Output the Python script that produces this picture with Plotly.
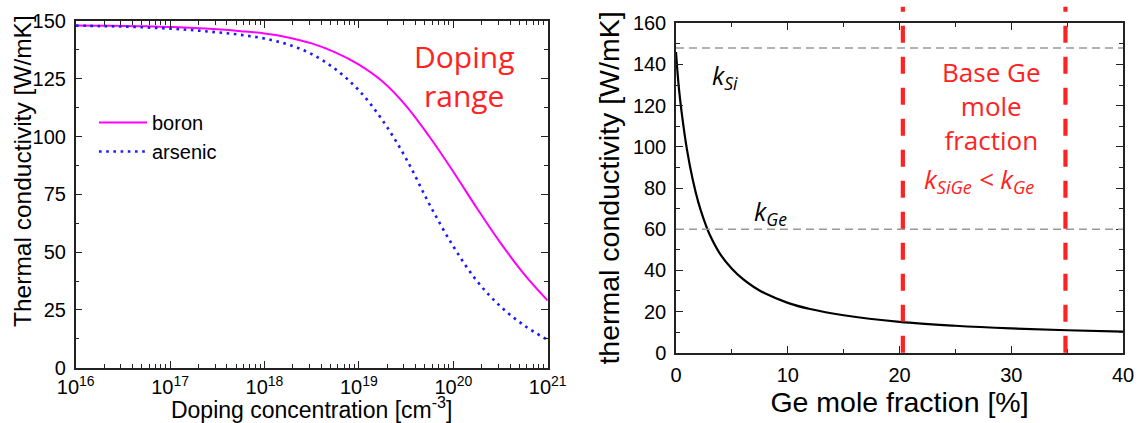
import math
import plotly.graph_objects as go

# ---------------- data ----------------
doping_conc = [1e16, 1.78e16, 3.16e16, 5.62e16, 1e17, 1.78e17, 3.16e17, 5.62e17,
               1e18, 1.78e18, 3.16e18, 5.62e18, 1e19, 1.78e19, 3.16e19, 5.62e19,
               1e20, 1.78e20, 3.16e20, 5.62e20, 1e21]
boron_k = [148.0, 147.95, 147.85, 147.7, 147.4, 147.0, 146.4, 145.6,
           144.6, 142.9, 140.3, 136.4, 131.1, 123.8, 113.3, 99.8,
           84.8, 69.0, 54.0, 40.5, 29.0]
arsenic_k = [148.0, 147.8, 147.6, 147.2, 146.7, 146.0, 145.1, 144.0,
             142.4, 139.8, 135.7, 129.2, 120.0, 107.0, 90.5, 70.5,
             52.5, 37.5, 26.5, 18.3, 12.0]

ge_fraction = [0, 0.25, 0.5, 1, 1.5, 2, 2.5, 3, 4, 5, 6, 7, 8, 10, 12,
               15, 20, 25, 30, 35, 40]
sige_k = [146, 129, 117, 98, 84, 73, 64.5, 57.5, 47.5, 40.8, 35.7, 31.8, 28.7,
          24.2, 21.2, 18.2, 15, 13.1, 11.8, 10.9, 10.2]

k_si_ref = 148
k_ge_ref = 60
doping_marker = 1e19
base_ge_bounds = [20.3, 34.85]
log_tick_exps = [16, 17, 18, 19, 20, 21]

# ---------------- styling ----------------
W, H = 1142, 423
FONT = "Liberation Sans, Arial, sans-serif"
CAL = "Open Sans, Lato, sans-serif"
RED = "#ff2222"


def px_dom_x(a, b):
    return [a / W, b / W]


def px_dom_y(top, bottom):
    return [1 - bottom / H, 1 - top / H]


fig = go.Figure()

fig.add_trace(go.Scatter(
    x=doping_conc, y=boron_k, name="boron", mode="lines",
    line=dict(color="#ff00ff", width=2, shape="spline", smoothing=1),
    xaxis="x", yaxis="y"))
fig.add_trace(go.Scatter(
    x=doping_conc, y=arsenic_k, name="arsenic", mode="lines",
    line=dict(color="#1a1aff", width=2.6, dash="2.6px,4.6px", shape="spline",
              smoothing=1),
    xaxis="x", yaxis="y"))
fig.add_trace(go.Scatter(
    x=ge_fraction, y=sige_k, name="SiGe", mode="lines", showlegend=False,
    line=dict(color="black", width=2.2, shape="spline", smoothing=1),
    xaxis="x2", yaxis="y2"))

axis_common = dict(
    showline=True, linecolor="#222", linewidth=1.5, mirror="allticks",
    ticks="inside", tickcolor="#222", tickwidth=1.3, ticklen=7,
    showgrid=False, zeroline=False, automargin=False,
    tickfont=dict(family=FONT, size=20, color="black"),
)

fig.update_layout(
    width=W, height=H,
    margin=dict(l=0, r=0, t=0, b=0),
    paper_bgcolor="white", plot_bgcolor="white",
    template="none",
    font=dict(family=FONT, color="black"),
    xaxis=dict(
        **axis_common, type="log", domain=px_dom_x(75.7, 547.7),
        range=[16, 21], tickvals=[10.0 ** e for e in log_tick_exps],
        ticktext=[f"10<sup>{e}</sup>" for e in log_tick_exps],
        ticklabelstandoff=1,
        minor=dict(ticks="inside", ticklen=4, tickcolor="#222",
                   dtick="D1", tickwidth=1.1),
        title=dict(text="Doping concentration [cm<sup>-3</sup>]",
                   font=dict(family=FONT, size=23), standoff=8),
        anchor="y",
    ),
    yaxis=dict(
        **axis_common, domain=px_dom_y(21, 367.7), range=[0, 150],
        tickmode="linear", tick0=0, dtick=25, ticklabelstandoff=4,
        minor=dict(ticks="inside", ticklen=4, tickcolor="#222",
                   dtick=12.5, tickwidth=1.1),
        anchor="x",
    ),
    xaxis2=dict(
        **axis_common, domain=px_dom_x(676, 1123), range=[0, 40],
        tickmode="linear", tick0=0, dtick=10, ticklabelstandoff=4,
        minor=dict(ticks="inside", ticklen=4, tickcolor="#222",
                   dtick=5, tickwidth=1.1),
        title=dict(text="Ge mole fraction [%]",
                   font=dict(family=FONT, size=28.5), standoff=7),
        anchor="y2",
    ),
    yaxis2=dict(
        **axis_common, domain=px_dom_y(23.3, 352.7), range=[0, 160],
        tickmode="linear", tick0=0, dtick=20, ticklabelstandoff=4,
        minor=dict(ticks="inside", ticklen=4, tickcolor="#222",
                   dtick=10, tickwidth=1.1),
        title=dict(text="thermal conductivity [W/mK]",
                   font=dict(family=FONT, size=28.5), standoff=5),
        anchor="x2",
    ),
    legend=dict(
        x=94 / W, y=1 - 103 / H, xanchor="left", yanchor="top",
        bgcolor="rgba(0,0,0,0)", borderwidth=0,
        font=dict(family=FONT, size=20), itemwidth=48,
        tracegroupgap=0,
    ),
)

shapes = []
# reference conductivities (dashed grey)
for kref in (k_si_ref, k_ge_ref):
    shapes.append(dict(type="line", xref="x2 domain", yref="y2",
                       x0=0, x1=1, y0=kref, y1=kref,
                       line=dict(color="#999999", width=1.5, dash="8px,5px")))
# doping marker (left)
shapes.append(dict(type="line", xref="x", yref="y domain",
                   x0=math.log10(doping_marker), x1=math.log10(doping_marker),
                   y0=0, y1=1,
                   line=dict(color=RED, width=4.8, dash="18px,14px")))
# base Ge window (right)
for xb in base_ge_bounds:
    shapes.append(dict(type="line", xref="x2", yref="y2 domain",
                       x0=xb, x1=xb, y0=0, y1=1.05,
                       line=dict(color=RED, width=4.2, dash="17px,14px")))
fig.update_layout(shapes=shapes)

annotations = [
    # left y-axis title (placed as in the reference, slightly above centre)
    dict(text="Thermal conductivity [W/mK]", xref="paper", yref="paper",
         x=22 / W, y=1 - 171 / H, textangle=-90, showarrow=False,
         xanchor="center", yanchor="middle",
         font=dict(family=FONT, size=24.5, color="black")),
    dict(text="Doping<br>range", xref="x domain", yref="y",
         x=0.823, y=126, showarrow=False, xanchor="center", yanchor="middle",
         font=dict(family=CAL, size=30, color=RED)),
    dict(text="Base Ge<br>mole<br>fraction", xref="x2", yref="y2",
         x=28.2, y=120, showarrow=False, xanchor="center", yanchor="middle",
         font=dict(family=CAL, size=26, color=RED)),
    dict(text="<i>k<sub>SiGe</sub> &lt; k<sub>Ge</sub></i>", xref="x2", yref="y2",
         x=27.1, y=84, showarrow=False, xanchor="center", yanchor="middle",
         font=dict(family=CAL, size=26, color=RED)),
    dict(text="<i>k<sub>Si</sub></i>", xref="x2", yref="y2",
         x=3.0, y=134, showarrow=False, xanchor="left", yanchor="middle",
         font=dict(family=CAL, size=25, color="black")),
    dict(text="<i>k<sub>Ge</sub></i>", xref="x2", yref="y2",
         x=6.8, y=68, showarrow=False, xanchor="left", yanchor="middle",
         font=dict(family=CAL, size=25, color="black")),
]
fig.update_layout(annotations=annotations)

fig.write_html("out.html",
               config={"displayModeBar": False},
               post_script="document.body.style.margin='0px';")
